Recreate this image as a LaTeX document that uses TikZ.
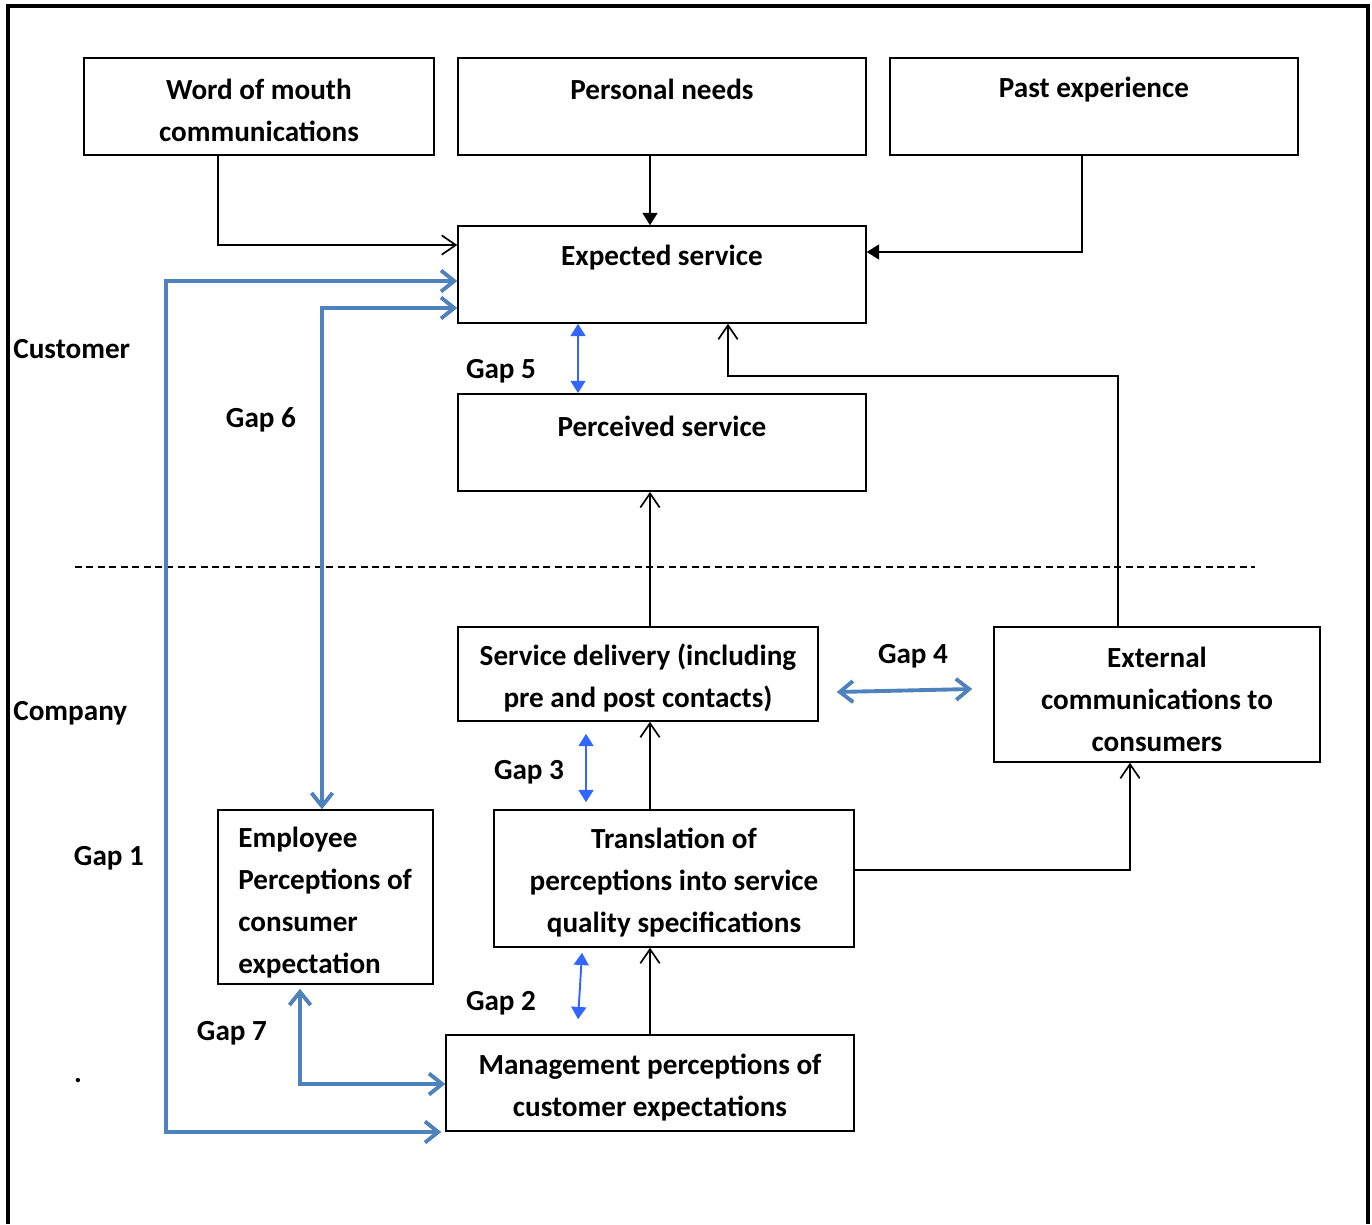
\documentclass[tikz,border=0pt]{standalone}
\usepackage{fontspec}
\setmainfont{Carlito}
\usetikzlibrary{arrows.meta}
\definecolor{gapline}{RGB}{79,129,189}
\definecolor{gapblue}{RGB}{51,102,255}

\begin{document}
\begin{tikzpicture}[x=0.02cm,y=-0.02cm,
	font=\fontsize{16.6}{23.9}\selectfont\bfseries,
	box/.style={draw,line width=0.9pt,inner sep=0pt},
	txt/.style={inner sep=0pt,align=center},
	arr/.style={line width=0.95pt,-{Straight Barb[length=8pt,width=11pt]}},
	tri/.style={line width=0.95pt,-{Triangle[length=7pt,width=8.5pt]}},
	gapb/.style={draw=gapblue,line width=1.1pt,{Triangle[length=7pt,width=8.5pt]}-{Triangle[length=7pt,width=8.5pt]}},
	gapl/.style={draw=gapline,line width=2.2pt,{Straight Barb[length=7.5pt,width=12pt]}-{Straight Barb[length=7.5pt,width=12pt]}}]
	\useasboundingbox (0,0) rectangle (1372,1224);
	% Frame
	\draw[line width=2pt] (8,1224) -- (8,6) -- (1368,6) -- (1368,1224);
	% Customer side
	\node[box,minimum width=7cm,minimum height=1.94cm] (wom) at (259,106.5) {};
	\node[box,minimum width=8.16cm,minimum height=1.94cm] (needs) at (662,106.5) {};
	\node[box,minimum width=8.16cm,minimum height=1.94cm] (past) at (1094,106.5) {};
	\node[box,minimum width=8.16cm,minimum height=1.94cm] (exp) at (662,274.5) {};
	\node[box,line width=1.1pt,minimum width=8.16cm,minimum height=1.94cm] (perc) at (662,442.5) {};
	\node[txt] (wom-t) at (259,110) {Word of mouth\\communications};
	\node[txt] (needs-t) at (662,89) {Personal needs};
	\node[txt] (past-t) at (1094,90) {Past experience};
	\node[txt] (exp-t) at (662,258) {Expected service};
	\node[txt] (perc-t) at (662,426) {Perceived service};
	% Company side
	\node[box,minimum width=7.2cm,minimum height=1.88cm] (deliv) at (638,674) {};
	\node[box,minimum width=6.52cm,minimum height=2.7cm] (ext) at (1157,694.5) {};
	\node[box,minimum width=4.3cm,minimum height=3.48cm] (empl) at (325.5,897) {};
	\node[box,minimum width=7.2cm,minimum height=2.74cm] (transl) at (674,878.5) {};
	\node[box,minimum width=8.16cm,minimum height=1.92cm] (mgmt) at (650,1083) {};
	\node[txt] (deliv-t) at (638,678) {Service delivery (including\\pre and post contacts)};
	\node[txt] (ext-t) at (1157,699) {External\\communications to\\consumers};
	\node[txt,anchor=west,align=left] (empl-t) at (238,903) {Employee\\Perceptions of\\consumer\\expectation};
	\node[txt] (transl-t) at (674,883) {Translation of\\perceptions into service\\quality specifications};
	\node[txt] (mgmt-t) at (650,1088) {Management perceptions of\\customer expectations};
	% Side labels
	\node[txt,anchor=west] (cust) at (13,349) {Customer};
	\node[txt,anchor=west] (comp) at (13,713) {Company};
	\node[txt] (dot) at (78,1081) {.};
	\foreach \n/\x/\y in {1/109/858,2/501/1003,3/529/772,4/913/656,5/501/371,6/261/420,7/232/1033}
		\node[txt] (gap\n) at (\x,\y) {Gap \n};
	% Divider
	\draw[line width=0.7pt,dash pattern=on 4pt off 2.5pt] (75,567) -- (1255,567);
	% Black connectors
	\coordinate (bend) at (728,376);
	\draw[arr] ([xshift=-0.82cm]wom.south) |- ([yshift=0.59cm]exp.west);
	\draw[tri] ([xshift=-0.24cm]needs.south) -- ([xshift=-0.24cm]exp.north);
	\draw[tri] ([xshift=-0.24cm]past.south) |- ([yshift=0.45cm]exp.east);
	\draw[arr] ([xshift=-0.78cm]ext.north) |- (bend) -- ([xshift=1.32cm]exp.south);
	\draw[arr] ([xshift=0.24cm]deliv.north) -- ([xshift=-0.24cm]perc.south);
	\draw[arr] ([xshift=-0.48cm]transl.north) -- ([xshift=0.24cm]deliv.south);
	\draw[arr] ([yshift=0.17cm]transl.east) -| ([xshift=-0.54cm]ext.south);
	\draw[arr] (mgmt.north) -- ([xshift=-0.48cm]transl.south);
	% Gaps
	\coordinate (g1) at (166,1132);
	\draw[gapb] ([xshift=-1.68cm]exp.south) -- ([xshift=-1.68cm]perc.north);
	\draw[gapb] ([shift={(-1.04cm,-0.24cm)}]deliv.south) -- ([shift={(-1.76cm,0.14cm)}]transl.north);
	\draw[gapb] ([shift={(-1.84cm,-0.1cm)}]transl.south) -- ([shift={(-1.44cm,0.3cm)}]mgmt.north);
	\draw[gapl] ([shift={(0.36cm,-0.36cm)}]deliv.east) -- ([shift={(-0.42cm,0.11cm)}]ext.west);
	\draw[gapl] ([yshift=-0.67cm]exp.west) -| ([xshift=-0.07cm]empl.north);
	\draw[gapl] ([yshift=-0.13cm]exp.west) -| (g1) -- ([shift={(-0.08cm,-0.98cm)}]mgmt.west);
	\draw[gapl] ([shift={(-0.51cm,-0.08cm)}]empl.south) |- ([yshift=-0.02cm]mgmt.west);
\end{tikzpicture}
\end{document}
